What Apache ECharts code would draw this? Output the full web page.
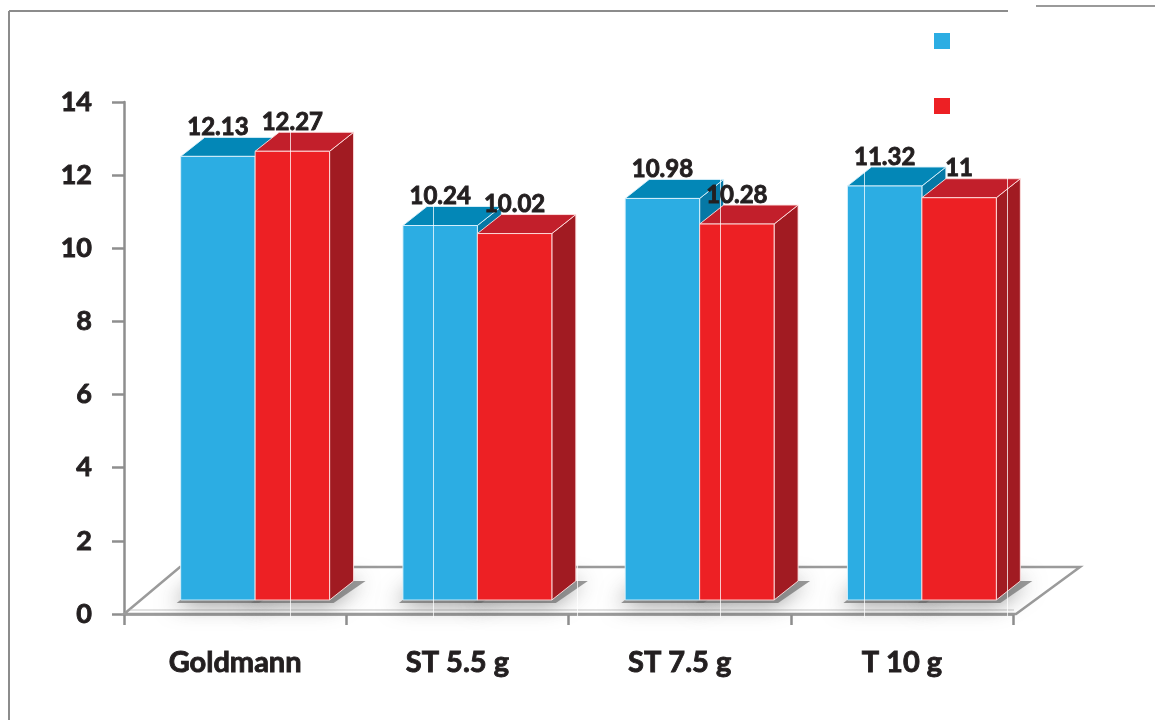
<!DOCTYPE html>
<html>
<head>
<meta charset="utf-8">
<title>Bar chart</title>
<script src="https://cdn.jsdelivr.net/npm/echarts@6/dist/echarts.min.js"></script>
<style>
  html, body { margin: 0; padding: 0; background: #ffffff; }
  #chart { width: 1155px; height: 720px; }
</style>
</head>
<body>
<div id="chart"></div>
<script>
// Chart values
const categories = ['Goldmann', 'ST 5.5 g', 'ST 7.5 g', 'T 10 g'];
const seriesNames = ['Series 1', 'Series 2'];
const seriesBlue = [12.13, 10.24, 10.98, 11.32];
const seriesRed = [12.27, 10.02, 10.28, 11];
const yMin = 0;
const yMax = 14;
const yStep = 2;

// 3D box geometry (pixels / band ratios)
const BAR_RATIO = 0.335;   // width of one box as share of the category band
const SHIFT_RATIO = 0.09;  // shift of the pair centre to the right of the band centre
const OFF_Y = 14;          // lift of the box front above the front floor edge
const DX = 24;             // depth of boxes, horizontal
const DY = 19;             // depth of boxes, vertical
const FLOOR_DX = 56;
const FLOOR_DY = 47;

const TEXT_FONT = 'Lato';
const TEXT_WEIGHT = 'bold';
const TEXT_COLOR = '#231f20';
// a thin outline in the text colour gives the heavier strokes
const TEXT_HEAVY = { textBorderColor: TEXT_COLOR, textBorderWidth: 0.9 };

const palette = [
  { front: '#2cade3', top: '#0387b7', side: '#0678a5', edge: 'rgba(220,242,252,0.9)' },
  { front: '#ed2024', top: '#c21f2b', side: '#a11b22', edge: 'rgba(255,225,225,0.9)' }
];

function boxGeom(api, side) {
  const ci = api.value(0);
  const v = api.value(1);
  const p0 = api.coord([ci, 0]);
  const p1 = api.coord([ci, v]);
  const band = api.size([1, 0])[0];
  const w = band * BAR_RATIO;
  const cx = p0[0] + band * SHIFT_RATIO;
  const x0 = side === 0 ? cx - w : cx;
  return { x0: x0, w: w, yb: p0[1] - OFF_Y, yt: p1[1] - OFF_Y, v: v };
}

function boxRenderer(side) {
  const c = palette[side];
  return function (params, api) {
    const g = boxGeom(api, side);
    const x0 = g.x0, x1 = g.x0 + g.w, yt = g.yt, yb = g.yb;
    return {
      type: 'group',
      children: [
        {
          type: 'polygon',
          shape: { points: [[x1, yt], [x1 + DX, yt - DY], [x1 + DX, yb - DY], [x1, yb]] },
          style: { fill: c.side, stroke: c.edge, lineWidth: 1 }
        },
        {
          type: 'polygon',
          shape: { points: [[x0, yt], [x1, yt], [x1 + DX, yt - DY], [x0 + DX, yt - DY]] },
          style: { fill: c.top, stroke: c.edge, lineWidth: 1 }
        },
        {
          type: 'rect',
          shape: { x: x0, y: yt, width: g.w, height: yb - yt },
          style: { fill: c.front, stroke: c.edge, lineWidth: 1 }
        }
      ]
    };
  };
}

function shadowRenderer(side) {
  return function (params, api) {
    const g = boxGeom(api, side);
    const x0 = g.x0, x1 = g.x0 + g.w, yb = g.yb;
    return {
      type: 'polygon',
      shape: { points: [[x0 - 4, yb + 3], [x1 + 4, yb + 3], [x1 + DX + 12, yb - DY], [x0 + DX, yb - DY]] },
      style: {
        fill: 'rgba(110,110,110,0.7)',
        shadowBlur: 22,
        shadowColor: 'rgba(50,50,50,0.8)',
        shadowOffsetX: -4,
        shadowOffsetY: 1
      }
    };
  };
}

function labelRenderer(side) {
  return function (params, api) {
    const g = boxGeom(api, side);
    return {
      type: 'text',
      style: Object.assign({
        text: String(g.v),
        x: g.x0 + g.w / 2,
        y: g.yt - DY + 2,
        align: 'center',
        verticalAlign: 'bottom',
        fontFamily: TEXT_FONT,
        fontWeight: TEXT_WEIGHT,
        fontSize: 24,
        fill: TEXT_COLOR
      }, { stroke: TEXT_COLOR, lineWidth: 0.9 })
    };
  };
}

// floor plate below the boxes
function floorRenderer(params) {
  const cs = params.coordSys;
  const yf = cs.y + cs.height;
  const xl = cs.x, xr = cs.x + cs.width + 3;
  return {
    type: 'group',
    children: [
      {
        type: 'polygon',
        shape: { points: [[xl, yf], [xr, yf], [xr + FLOOR_DX + 8, yf - FLOOR_DY], [xl + FLOOR_DX, yf - FLOOR_DY]] },
        style: { fill: '#ffffff', stroke: '#9b9b9b', lineWidth: 2.5, lineJoin: 'miter' }
      },
      {
        type: 'line',
        shape: { x1: xl + 6, y1: yf - 4, x2: xr - 2, y2: yf - 4 },
        style: { stroke: 'rgba(190,190,190,0.6)', lineWidth: 1.5 }
      }
    ]
  };
}

// faint white wall lines running over the boxes
function wallLinesRenderer(params) {
  const cs = params.coordSys;
  const children = [];
  for (let i = 0; i < 6; i++) {
    const x = Math.round(cs.x + cs.width * (0.1867 + 0.1613 * i)) + 0.5;
    children.push({
      type: 'line',
      shape: { x1: x, y1: cs.y + 22, x2: x, y2: cs.y + cs.height + 4 },
      style: { stroke: 'rgba(255,255,255,0.75)', lineWidth: 1 }
    });
  }
  return { type: 'group', children: children };
}

const blueData = seriesBlue.map((v, i) => [i, v]);
const redData = seriesRed.map((v, i) => [i, v]);

const chart = echarts.init(document.getElementById('chart'), null, { renderer: 'canvas' });

chart.setOption({
  animation: false,
  backgroundColor: '#ffffff',
  textStyle: { fontFamily: TEXT_FONT },
  legend: {
    orient: 'vertical',
    left: 929,
    top: 28,
    itemWidth: 16,
    itemHeight: 16,
    itemGap: 49,
    icon: 'rect',
    data: seriesNames,
    formatter: function () { return ''; },
    selectedMode: false
  },
  grid: { left: 124, top: 102, width: 889, height: 512, containLabel: false },
  xAxis: {
    type: 'category',
    data: categories,
    boundaryGap: true,
    axisLine: { show: true, lineStyle: { color: '#8e8e8e', width: 2.5 } },
    axisTick: { show: true, length: 11, alignWithLabel: false, lineStyle: { color: '#8e8e8e', width: 2.5 } },
    axisLabel: Object.assign({ margin: 34, fontFamily: TEXT_FONT, fontWeight: TEXT_WEIGHT, fontSize: 29, color: TEXT_COLOR }, TEXT_HEAVY),
    splitLine: { show: false }
  },
  yAxis: {
    type: 'value',
    min: yMin,
    max: yMax,
    interval: yStep,
    axisLine: { show: true, lineStyle: { color: '#8e8e8e', width: 2.5 } },
    axisTick: { show: true, length: 12, lineStyle: { color: '#8e8e8e', width: 2.5 } },
    axisLabel: Object.assign({ margin: 32, fontFamily: TEXT_FONT, fontWeight: TEXT_WEIGHT, fontSize: 27, color: TEXT_COLOR }, TEXT_HEAVY),
    splitLine: { show: false }
  },
  graphic: [
    { type: 'line', shape: { x1: 9, y1: 11, x2: 9, y2: 720 }, style: { stroke: '#8c8c8c', lineWidth: 2 } },
    { type: 'line', shape: { x1: 9, y1: 11, x2: 1008, y2: 11 }, style: { stroke: '#8c8c8c', lineWidth: 2 } },
    { type: 'line', shape: { x1: 1036, y1: 6, x2: 1155, y2: 6 }, style: { stroke: '#9a9a9a', lineWidth: 2 } }
  ],
  series: [
    { type: 'custom', name: 'floor', data: [[0, 0]], renderItem: floorRenderer, z: 1, clip: false, silent: true },
    { type: 'custom', name: 'shadowBlue', data: blueData, renderItem: shadowRenderer(0), z: 1, clip: false, silent: true },
    { type: 'custom', name: 'shadowRed', data: redData, renderItem: shadowRenderer(1), z: 1, clip: false, silent: true },
    {
      type: 'custom', name: seriesNames[0], data: blueData, renderItem: boxRenderer(0),
      itemStyle: { color: palette[0].front }, z: 2, clip: false
    },
    {
      type: 'custom', name: seriesNames[1], data: redData, renderItem: boxRenderer(1),
      itemStyle: { color: palette[1].front }, z: 2, clip: false
    },
    { type: 'custom', name: 'wallLines', data: [[0, 0]], renderItem: wallLinesRenderer, z: 3, clip: false, silent: true },
    { type: 'custom', name: 'labelsBlue', data: blueData, renderItem: labelRenderer(0), z: 4, clip: false, silent: true },
    { type: 'custom', name: 'labelsRed', data: redData, renderItem: labelRenderer(1), z: 4, clip: false, silent: true }
  ]
});
</script>
</body>
</html>
